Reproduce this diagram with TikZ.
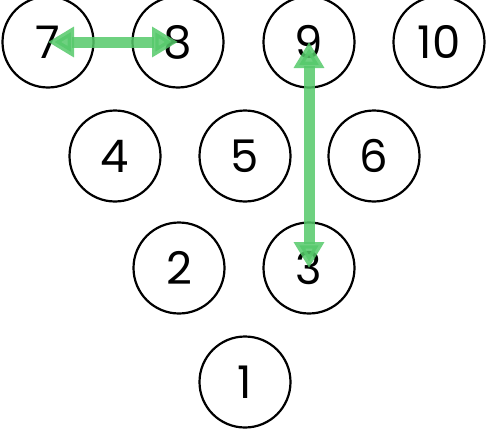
\documentclass[tikz,border=0pt]{standalone}
\usepackage{fontspec}
\setmainfont{Poppins}
\usepackage{xcolor}
\usetikzlibrary{arrows.meta}
\definecolor{colorPin}{HTML}{55C96A}

\begin{document}
\begin{tikzpicture}[x=1pt,y=1pt,every node/.append style={align=center},int/.style={draw, line width=2.2pt, minimum size=91pt, inner sep=0pt, circle, font=\fontsize{45}{45}\selectfont},move/.style={colorPin, opacity=0.85, line width=11pt, {Triangle[length=26pt,width=29pt]}-{Triangle[length=26pt,width=29pt]}},]
    \useasboundingbox (0,0) rectangle (496,-434);
    \node [int] (P7) at (48,-42)   {7};
    \node [int] (P8) at (178,-42)  {8};
    \node [int] (P9) at (309,-42)  {9};
    \node [int] (P10) at (439,-42) {10};
    \node [int] (P4) at (115,-156) {4};
    \node [int] (P5) at (245,-156) {5};
    \node [int] (P6) at (374,-156) {6};
    \node [int] (P2) at (179,-268) {2};
    \node [int] (P3) at (309,-268) {3};
    \node [int] (P1) at (245,-382) {1};
    \draw[move] (P7.center) -- (P8.center);
    \draw[move] (P9.center) -- (P3.center);
\end{tikzpicture}
\end{document}
